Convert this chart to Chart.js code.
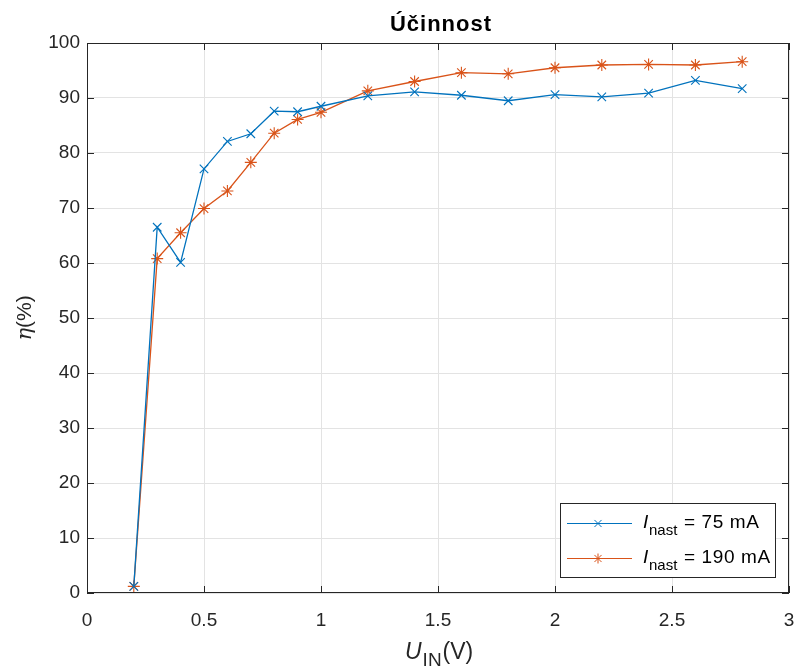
<!DOCTYPE html>
<html>
<head>
<meta charset="utf-8">
<script src="https://cdn.jsdelivr.net/npm/chart.js@4.4.1/dist/chart.umd.min.js"></script>
<style>
  html, body { margin: 0; padding: 0; background: #fff; }
  #wrap { width: 797px; height: 668px; }
</style>
</head>
<body>
<div id="wrap"><canvas id="myChart" width="797" height="668"></canvas></div>
<script>
// input voltage (V)
const uIn = [0.2, 0.3, 0.4, 0.5, 0.6, 0.7, 0.8, 0.9, 1.0, 1.2, 1.4, 1.6, 1.8, 2.0, 2.2, 2.4, 2.6, 2.8];
// efficiency (%) for I_nast = 75 mA
const eta75 = [1.2, 66.5, 60.1, 77.1, 82.1, 83.5, 87.6, 87.5, 88.5, 90.4, 91.1, 90.5, 89.5, 90.6, 90.2, 90.9, 93.2, 91.7];
// efficiency (%) for I_nast = 190 mA
const eta190 = [1.2, 60.8, 65.5, 69.9, 73.1, 78.3, 83.6, 86.1, 87.4, 91.3, 93.0, 94.6, 94.4, 95.5, 96.0, 96.1, 96.0, 96.6];

const xTicks = [0, 0.5, 1, 1.5, 2, 2.5, 3];
const yTicks = [0, 10, 20, 30, 40, 50, 60, 70, 80, 90, 100];

const blue = '#0072BD';
const red = '#D95319';
const axisCol = '#262626';
const fontFam = '"Liberation Sans", Arial, Helvetica, sans-serif';

function toXY(xs, ys) {
    return xs.map((x, i) => ({ x: x, y: ys[i] }));
}

// draws the box, inward ticks, title, axis labels and legend (MATLAB look)
const matlabFrame = {
    id: 'matlabFrame',
    afterDraw(chart) {
        const ctx = chart.ctx;
        const a = chart.chartArea;
        const xs = chart.scales.x;
        const ys = chart.scales.y;
        ctx.save();
        ctx.strokeStyle = axisCol;
        ctx.lineWidth = 1;
        ctx.strokeRect(a.left + 0.5, a.top + 0.5, a.right - a.left - 1, a.bottom - a.top - 1);
        const tl = 7;
        ctx.beginPath();
        xTicks.forEach(v => {
            const px = Math.round(xs.getPixelForValue(v)) + 0.5;
            ctx.moveTo(px, a.bottom); ctx.lineTo(px, a.bottom - tl);
            ctx.moveTo(px, a.top); ctx.lineTo(px, a.top + tl);
        });
        yTicks.forEach(v => {
            const py = Math.round(ys.getPixelForValue(v)) + 0.5;
            ctx.moveTo(a.left, py); ctx.lineTo(a.left + tl, py);
            ctx.moveTo(a.right, py); ctx.lineTo(a.right - tl, py);
        });
        ctx.stroke();

        // title
        ctx.fillStyle = '#000';
        ctx.font = 'bold 22px ' + fontFam;
        ctx.letterSpacing = '1px';
        ctx.textAlign = 'center';
        ctx.textBaseline = 'alphabetic';
        ctx.fillText('Účinnost', (a.left + a.right) / 2 + 3, 31);
        ctx.letterSpacing = '0px';

        // x axis title: U_IN(V)
        ctx.fillStyle = axisCol;
        ctx.textAlign = 'left';
        ctx.font = 'italic 23px ' + fontFam;
        const wU = ctx.measureText('U').width;
        ctx.font = '19px ' + fontFam;
        const wIN = ctx.measureText('IN').width;
        let sx = 405;
        const by = 659;
        ctx.font = 'italic 23px ' + fontFam;
        ctx.fillText('U', sx, by); sx += wU + 1;
        ctx.font = '19px ' + fontFam;
        ctx.fillText('IN', sx, by + 7); sx += wIN + 1;
        ctx.font = '23px ' + fontFam;
        ctx.fillText('(V)', sx, by);

        // y axis title: η(%)
        ctx.save();
        ctx.translate(31, (a.top + a.bottom) / 2);
        ctx.rotate(-Math.PI / 2);
        ctx.font = 'italic 21px "DejaVu Serif", serif';
        const wEta = ctx.measureText('η').width;
        ctx.font = '21px ' + fontFam;
        const wPct = ctx.measureText('(%)').width;
        let tx = -(wEta + wPct) / 2;
        ctx.font = 'italic 21px "DejaVu Serif", serif';
        ctx.fillText('η', tx, 0); tx += wEta;
        ctx.font = '21px ' + fontFam;
        ctx.fillText('(%)', tx, 0);
        ctx.restore();

        // legend
        const lx = 560, ly = 503, lw = 215, lh = 74;
        ctx.fillStyle = '#fff';
        ctx.fillRect(lx, ly, lw, lh);
        ctx.strokeStyle = axisCol;
        ctx.strokeRect(lx + 0.5, ly + 0.5, lw, lh);
        const rows = [
            { ds: chart.data.datasets[0], y: 523, txt: '= 75 mA' },
            { ds: chart.data.datasets[1], y: 558, txt: '= 190 mA' }
        ];
        rows.forEach(r => {
            ctx.strokeStyle = r.ds.borderColor;
            ctx.lineWidth = 1.2;
            ctx.beginPath();
            ctx.moveTo(567, r.y + 0.5); ctx.lineTo(632, r.y + 0.5);
            ctx.stroke();
            ctx.lineWidth = 1;
            Chart.helpers.drawPoint(ctx, {
                pointStyle: r.ds.pointStyle, rotation: 0,
                radius: 5, borderWidth: 1
            }, 598, r.y + 0.5);
            ctx.fillStyle = '#000';
            ctx.font = 'italic 19px ' + fontFam;
            ctx.fillText('I', 643, r.y + 5);
            ctx.font = '15px ' + fontFam;
            ctx.fillText('nast', 649, r.y + 12);
            ctx.font = '19px ' + fontFam;
            ctx.letterSpacing = '0.6px';
            ctx.fillText(r.txt, 684, r.y + 5);
            ctx.letterSpacing = '0px';
        });
        ctx.restore();
    }
};

const config = {
    type: 'line',
    data: {
        datasets: [
            {
                label: 'I_nast = 75 mA',
                data: toXY(uIn, eta75),
                borderColor: blue,
                backgroundColor: blue,
                borderWidth: 1.3,
                pointStyle: 'crossRot',
                pointRadius: 6,
                pointBorderWidth: 1.1,
                tension: 0
            },
            {
                label: 'I_nast = 190 mA',
                data: toXY(uIn, eta190),
                borderColor: red,
                backgroundColor: red,
                borderWidth: 1.3,
                pointStyle: 'star',
                pointRadius: 6,
                pointBorderWidth: 1.1,
                tension: 0
            }
        ]
    },
    options: {
        responsive: false,
        animation: false,
        devicePixelRatio: 1,
        layout: { padding: { top: 43, right: 8, left: 0, bottom: 0 } },
        plugins: {
            legend: { display: false },
            title: { display: false },
            tooltip: { enabled: false }
        },
        scales: {
            x: {
                type: 'linear',
                min: 0, max: 3,
                afterBuildTicks: s => { s.ticks = xTicks.map(v => ({ value: v })); },
                afterFit: s => { s.height = 75; s.paddingLeft = 0; s.paddingRight = 0; },
                border: { display: false },
                grid: { color: '#e3e3e3', drawTicks: false },
                ticks: {
                    padding: 16,
                    color: axisCol,
                    font: { family: fontFam, size: 19 },
                    maxRotation: 0,
                    callback: v => String(v)
                }
            },
            y: {
                type: 'linear',
                min: 0, max: 100,
                afterBuildTicks: s => { s.ticks = yTicks.map(v => ({ value: v })); },
                afterFit: s => { s.width = 87; s.paddingTop = 0; s.paddingBottom = 0; },
                border: { display: false },
                grid: { color: '#e3e3e3', drawTicks: false },
                ticks: {
                    padding: 7,
                    color: axisCol,
                    font: { family: fontFam, size: 19 },
                    callback: v => String(v)
                }
            }
        }
    },
    plugins: [matlabFrame]
};

window.myChart = new Chart(document.getElementById('myChart'), config);
</script>
</body>
</html>
